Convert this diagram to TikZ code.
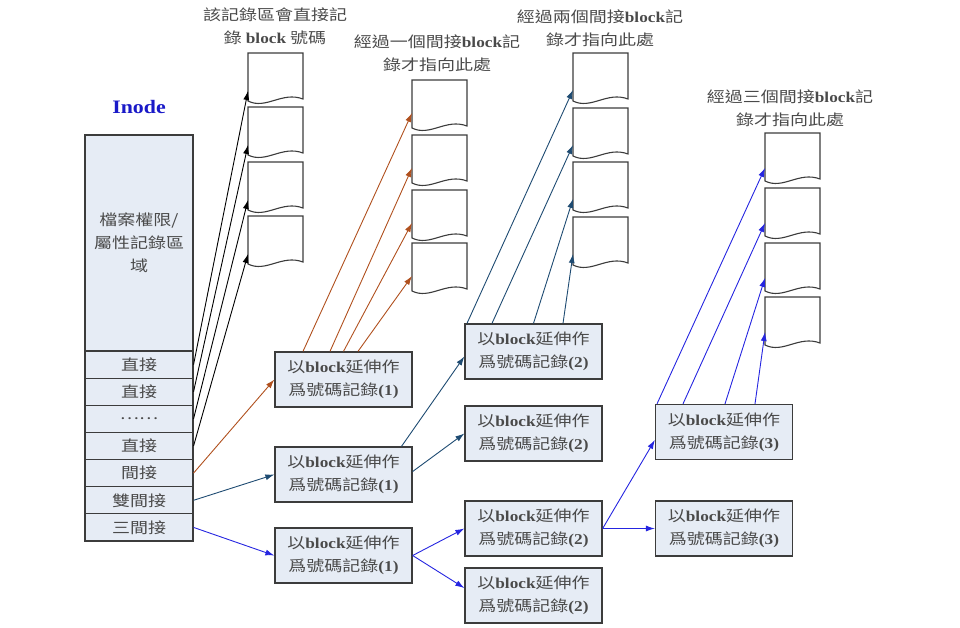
\documentclass[tikz,border=0pt]{standalone}
\usepackage{fontspec}
\setmainfont{Noto Sans CJK TC}[FakeStretch=1.2]
\newfontfamily\lat{Liberation Serif}[FakeStretch=1.15]
\usetikzlibrary{arrows.meta}
\definecolor{txt}{HTML}{4A4A4A}
\definecolor{cell}{HTML}{E6ECF5}
\definecolor{edge}{HTML}{3C3C3C}
\definecolor{brn}{HTML}{B0501E}
\definecolor{dbl}{HTML}{1E4B72}
\definecolor{tri}{HTML}{2525E0}
\definecolor{inodeblue}{HTML}{1A1AC8}
\newcommand\bk[1]{{\lat\bfseries #1}}
\newcommand\datablk[3]{%
  \node[blk] (#1) at (#2,#3) {};
  \draw[docline,shift={(#2,#3)}] (0,0) -- (0,48) .. controls (18,57) and (34,38) .. (55,46) -- (55,0) -- cycle;}
\begin{document}
\begin{tikzpicture}[x=1pt,y=-1pt,
  every node/.style={font=\fontsize{15}{23}\selectfont, text=txt},
  cellbox/.style={draw=edge, line width=1.1pt, fill=cell, minimum width=108pt, minimum height=27.14pt, inner sep=0pt, align=center},
  recbox/.style={draw=edge, line width=1.3pt, fill=cell, minimum width=137pt, minimum height=55pt, inner sep=0pt, align=center},
  blk/.style={minimum width=55pt, minimum height=54pt, inner sep=0pt, anchor=north west},
  docline/.style={draw=edge, line width=1.1pt, fill=white},
  lbl/.style={align=center},
  arr/.style={line width=0.9pt, -{Latex[length=9pt,width=6pt]}}]
\useasboundingbox (0,0) rectangle (960,627);

% labels
\node[lbl] (l0) at (275,26) {該記錄區會直接記\\錄 \bk{block} 號碼};
\node[lbl] (l1) at (437,53) {經過一個間接\bk{block}記\\錄才指向此處};
\node[lbl] (l2) at (600,28) {經過兩個間接\bk{block}記\\錄才指向此處};
\node[lbl] (l3) at (790,108) {經過三個間接\bk{block}記\\錄才指向此處};
\node[text=inodeblue, font=\lat\bfseries\fontsize{19}{20}\selectfont] (inode) at (139,107) {Inode};

% inode
\node[cellbox, minimum height=216pt] (attr) at (139,243) {檔案權限/\\屬性記錄區\\域};
\node[cellbox] (r1) at (139,364.6) {直接};
\node[cellbox] (r2) at (139,391.7) {直接};
\node[cellbox] (r3) at (139,418.9) {……};
\node[cellbox] (r4) at (139,446.0) {直接};
\node[cellbox] (r5) at (139,473.1) {間接};
\node[cellbox] (r6) at (139,500.3) {雙間接};
\node[cellbox] (r7) at (139,527.4) {三間接};

% data blocks
\datablk{c0a}{248}{53}
\datablk{c0b}{248}{107}
\datablk{c0c}{248}{162}
\datablk{c0d}{248}{216}
\datablk{c1a}{412}{80}
\datablk{c1b}{412}{135}
\datablk{c1c}{412}{190}
\datablk{c1d}{412}{243}
\datablk{c2a}{573}{53}
\datablk{c2b}{573}{108}
\datablk{c2c}{573}{162}
\datablk{c2d}{573}{217}
\datablk{c3a}{765}{133}
\datablk{c3b}{765}{188}
\datablk{c3c}{765}{243}
\datablk{c3d}{765}{297}

% record boxes
\node[recbox] (I1) at (343.5,379.5) {以\bk{block}延伸作\\爲號碼記錄\bk{(1)}};
\node[recbox] (D1) at (343.5,474.5) {以\bk{block}延伸作\\爲號碼記錄\bk{(1)}};
\node[recbox] (T1) at (343.5,555.5) {以\bk{block}延伸作\\爲號碼記錄\bk{(1)}};
\node[recbox] (D2a) at (533.5,351.5) {以\bk{block}延伸作\\爲號碼記錄\bk{(2)}};
\node[recbox] (D2b) at (533.5,433.5) {以\bk{block}延伸作\\爲號碼記錄\bk{(2)}};
\node[recbox] (T2a) at (533.5,528.5) {以\bk{block}延伸作\\爲號碼記錄\bk{(2)}};
\node[recbox] (T2b) at (533.5,595.5) {以\bk{block}延伸作\\爲號碼記錄\bk{(2)}};
\node[recbox] (T3a) at (724,432) {以\bk{block}延伸作\\爲號碼記錄\bk{(3)}};
\node[recbox] (T3b) at (724,528.5) {以\bk{block}延伸作\\爲號碼記錄\bk{(3)}};

% direct
\draw[arr, black] (r1.east) -- ([yshift=-38pt]c0a.north west);
\draw[arr, black] (r2.east) -- ([yshift=-38pt]c0b.north west);
\draw[arr, black] (r3.east) -- ([yshift=-38pt]c0c.north west);
\draw[arr, black] (r4.east) -- ([yshift=-38pt]c0d.north west);

% single indirect
\draw[arr, brn] (r5.east) -- (I1.west);
\draw[arr, brn] ([xshift=-40.5pt]I1.north) -- ([yshift=-33pt]c1a.north west);
\draw[arr, brn] ([xshift=-13.5pt]I1.north) -- ([yshift=-33pt]c1b.north west);
\draw[arr, brn] (I1.north) -- ([yshift=-33pt]c1c.north west);
\draw[arr, brn] ([xshift=14.5pt]I1.north) -- ([yshift=-33pt]c1d.north west);

% double indirect
\draw[arr, dbl] (r6.east) -- (D1.west);
\draw[arr, dbl] ([xshift=58pt]D1.north) -- ([yshift=-5pt]D2a.west);
\draw[arr, dbl] ([yshift=3pt]D1.east) -- (D2b.west);
\draw[arr, dbl] ([xshift=-66.5pt]D2a.north) -- ([yshift=-37pt]c2a.north west);
\draw[arr, dbl] ([xshift=-41.5pt]D2a.north) -- ([yshift=-37pt]c2b.north west);
\draw[arr, dbl] (D2a.north) -- ([yshift=-37pt]c2c.north west);
\draw[arr, dbl] ([xshift=29.5pt]D2a.north) -- ([yshift=-37pt]c2d.north west);

% triple indirect
\draw[arr, tri] (r7.east) -- (T1.west);
\draw[arr, tri] (T1.east) -- (T2a.west);
\draw[arr, tri] (T1.east) -- ([yshift=7.5pt]T2b.west);
\draw[arr, tri] (T2a.east) -- ([yshift=-8pt]T3a.west);
\draw[arr, tri] (T2a.east) -- (T3b.west);
\draw[arr, tri] ([xshift=-67pt]T3a.north) -- ([yshift=-35pt]c3a.north west);
\draw[arr, tri] ([xshift=-41pt]T3a.north) -- ([yshift=-35pt]c3b.north west);
\draw[arr, tri] ([xshift=1pt]T3a.north) -- ([yshift=-35pt]c3c.north west);
\draw[arr, tri] ([xshift=31pt]T3a.north) -- ([yshift=-35pt]c3d.north west);
\end{tikzpicture}
\end{document}
